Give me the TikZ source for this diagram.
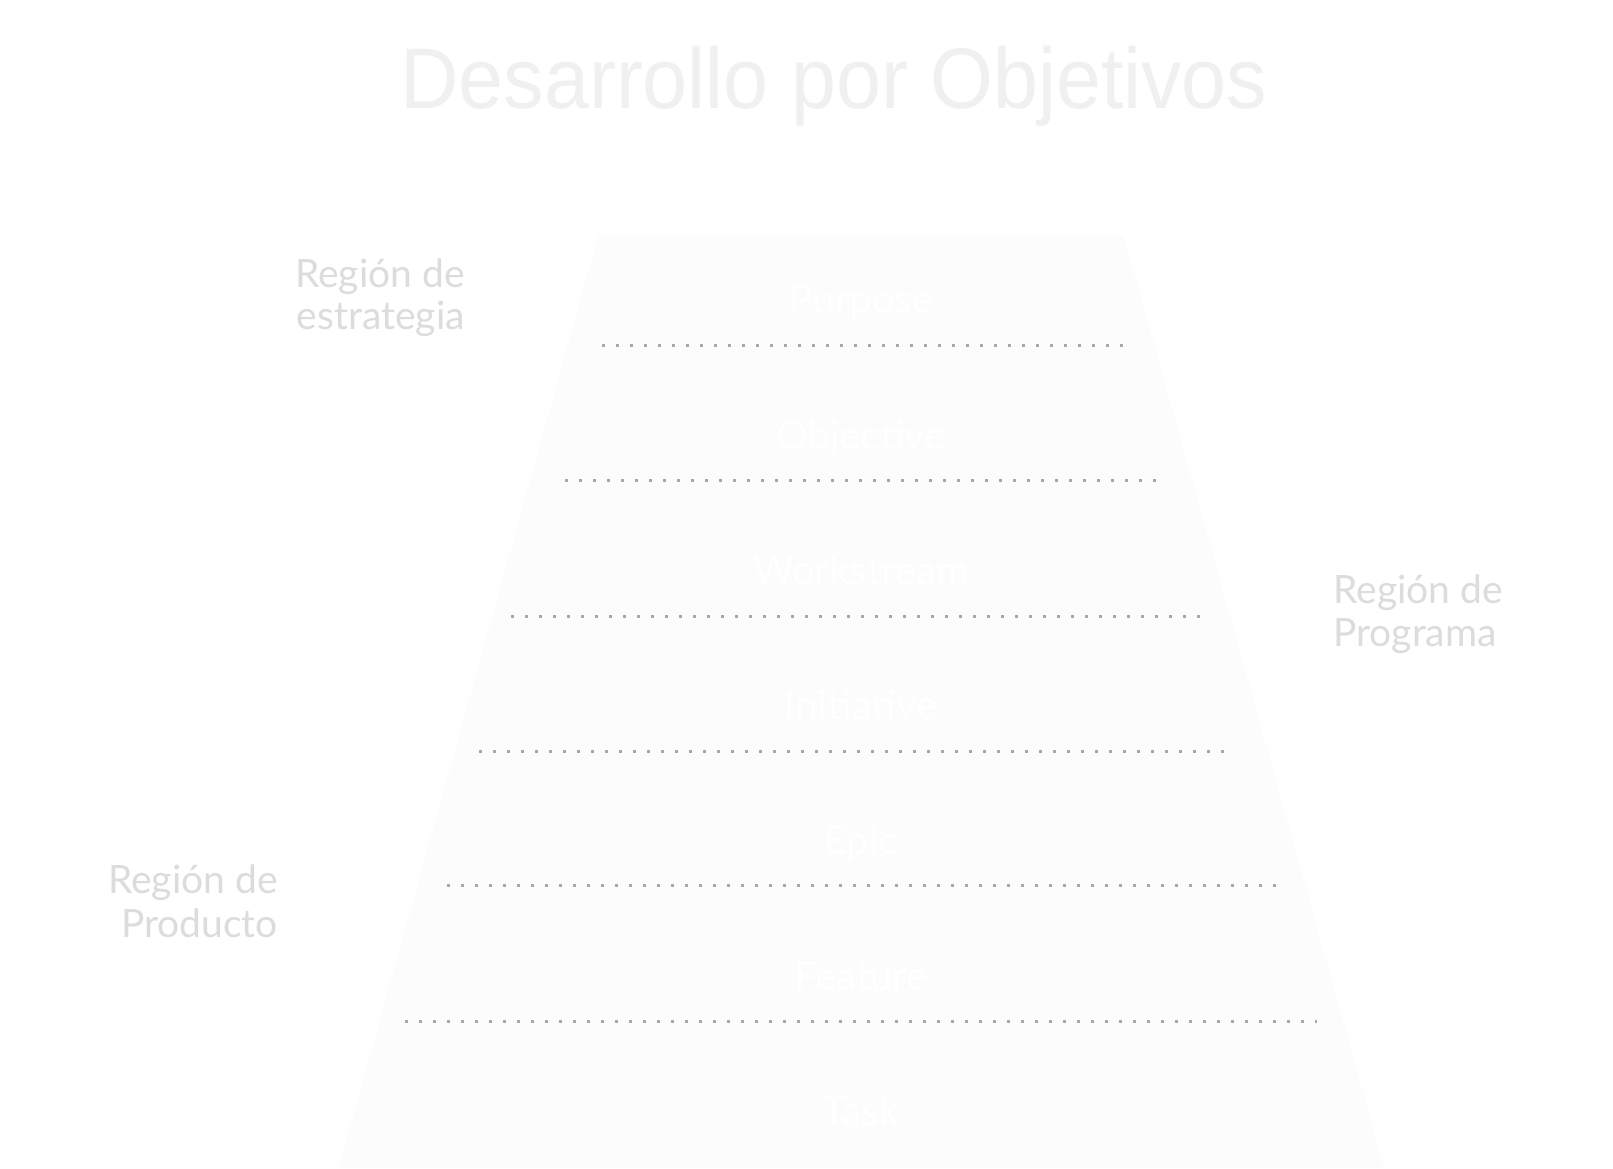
\documentclass[tikz,border=0pt]{standalone}
\usepackage{fontspec}
\setmainfont{Lato}
\newfontfamily\titlefont{Liberation Sans}
\usepackage{graphicx}
\definecolor{titlegray}{HTML}{F0F0F0}
\definecolor{regiongray}{HTML}{DCDCDC}
\definecolor{trapfill}{HTML}{FCFCFC}
\definecolor{dotgray}{HTML}{A8A8A8}
\tikzset{
  region/.style={inner sep=0pt, text=regiongray, font=\fontsize{39}{42}\selectfont},
  layer/.style={inner sep=0pt, text=white, font=\fontsize{40}{44}\selectfont, anchor=base},
  dotline/.style={draw=dotgray, line width=3pt, dash pattern=on 3pt off 11pt},
}
\begin{document}
\begin{tikzpicture}[x=1pt,y=-1pt]
\useasboundingbox[fill=white] (0,0) rectangle (1613,1168);
% title
\node[inner sep=0pt, anchor=base, text=titlegray] (title) at (834,108)
  {\scalebox{0.94}[1]{\titlefont\fontsize{86}{90}\selectfont Desarrollo por Objetivos}};
% trapezoid
\fill[trapfill] (598,237) -- (1124,237) -- (1384,1168) -- (339,1168) -- cycle;
% dotted separators
\coordinate (d1a) at (602,345.6);  \coordinate (d1b) at (1128,345.6);
\coordinate (d2a) at (565,480.4);  \coordinate (d2b) at (1159,480.4);
\coordinate (d3a) at (511,616.2);  \coordinate (d3b) at (1202,616.2);
\coordinate (d4a) at (479,751);    \coordinate (d4b) at (1225,751);
\coordinate (d5a) at (447,885.7);  \coordinate (d5b) at (1276,885.7);
\coordinate (d6a) at (405,1021.5); \coordinate (d6b) at (1317,1021.5);
\foreach \i in {1,...,6} { \draw[dotline] (d\i a) -- (d\i b); }
% layer labels
\node[layer] (purpose) at (861,313) {Purpose};
\node[layer] (objective) at (861,449) {Objective};
\node[layer] (workstream) at (861,584) {Workstream};
\node[layer] (initiative) at (861,719) {Initiative};
\node[layer] (epic) at (861,854) {Epic};
\node[layer] (feature) at (861,990) {Feature};
\node[layer] (task) at (861,1125) {Task};
% region labels
\node[region, anchor=base east] (estr1) at (465,287) {Región de};
\node[region, anchor=base east] (estr2) at (465,329) {estrategia};
\node[region, anchor=base west] (prog1) at (1333,603) {Región de};
\node[region, anchor=base west] (prog2) at (1333,646) {Programa};
\node[region, anchor=base east] (prod1) at (278,893) {Región de};
\node[region, anchor=base east] (prod2) at (278,937) {Producto};
\end{tikzpicture}
\end{document}
